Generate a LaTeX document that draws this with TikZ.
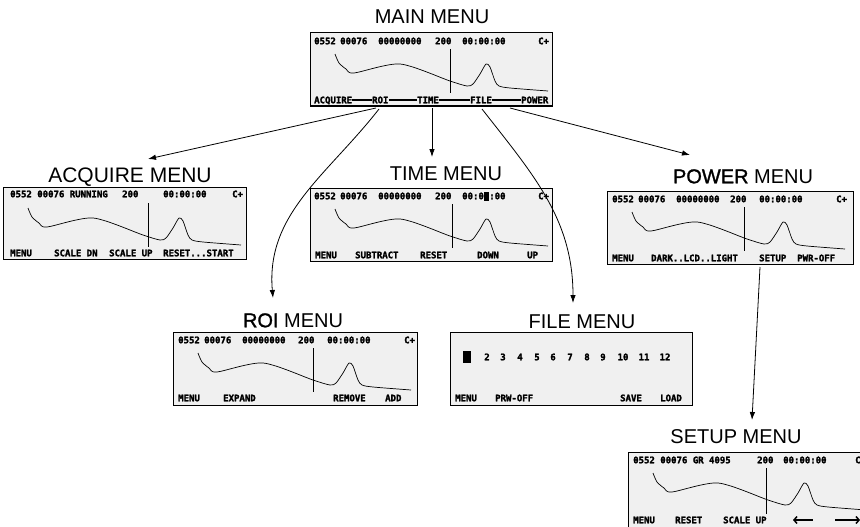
\documentclass[tikz,border=0pt]{standalone}
\usepackage{fontspec}
\setmainfont{Liberation Sans}
\newfontfamily\lcdfont{DejaVu Sans Mono}[UprightFont={* Bold}, UprightFeatures={FakeBold=2.2}]
\newfontfamily\heavyfont{Liberation Sans}[FakeBold=1.3]
\usetikzlibrary{arrows.meta}
\definecolor{scrgray}{RGB}{240,240,240}
\tikzset{
  scr/.style={draw=black, line width=1pt, fill=scrgray, inner sep=0pt, outer sep=0pt,
    anchor=north west, minimum width=242pt, minimum height=73pt},
  lcd/.style={font={\lcdfont\fontsize{9}{10}\selectfont}, anchor=west, inner sep=0pt,
    text height=6.5pt, text depth=0pt},
  lcdc/.style={lcd, anchor=center},
  ttl/.style={font={\fontsize{20}{22}\selectfont}, inner sep=0pt, text height=14.5pt, text depth=0pt},
  conn/.style={line width=0.8pt, -{Latex[length=8pt,width=5.5pt]}},
  curvel/.style={line width=0.7pt},
  cur/.style={line width=0.8pt},
  lcdbar/.style={line width=1.5pt},
}
\newcommand\lcdcurve{\draw[curvel] plot[smooth, tension=0.45] coordinates {(25,21) (29,30) (36,36) (44,40) (90,31) (140,48) (157,53) (163,51) (170,41) (176,31) (180,34) (185,48) (189,53) (200,55) (238,58)};}
\begin{document}
\begin{tikzpicture}[x=1pt,y=-1pt]
\useasboundingbox (0,0) rectangle (860,527);
\begin{scope}
\clip (0,0) rectangle (860,527);

% ---------- titles ----------
\node[ttl] (tmain) at (432,16) {MAIN MENU};
\node[ttl, font={\fontsize{21}{23}\selectfont}] (tacq) at (130,175) {ACQUIRE MENU};
\node[ttl] (ttime) at (446,173) {TIME MENU};
\node[ttl] (tpow) at (743,176) {{\heavyfont POWER} MENU};
\node[ttl] (troi) at (293,320) {{\heavyfont ROI} MENU};
\node[ttl] (tfile) at (582,321) {FILE MENU};
\node[ttl] (tset) at (736,436) {SETUP MENU};

% ---------- main ----------
\begin{scope}[shift={(310,33)}]
\node[scr] (mainscr) at (0,0) {};
\lcdcurve
\draw[cur] (140,16) -- (140,60);
\node[lcd] (m1) at (4,8) {0552};
\node[lcd] (m2) at (30,8) {00076};
\node[lcd] (m3) at (68,8) {00000000};
\node[lcd] (m4) at (125,8) {200};
\node[lcd] (m5) at (152,8) {00:00:00};
\node[lcd] (m6) at (228,8) {C+};
\node[lcd] (m7) at (4,67) {ACQUIRE};
\node[lcd] (m8) at (62,67) {ROI};
\node[lcd] (m9) at (107,67) {TIME};
\node[lcd] (m10) at (160,67) {FILE};
\node[lcd] (m11) at (211,67) {POWER};
\draw[lcdbar] (m7.east) -- (m8.west);
\draw[lcdbar] (m8.east) -- (m9.west);
\draw[lcdbar] (m9.east) -- (m10.west);
\draw[lcdbar] (m10.east) -- (m11.west);
\end{scope}

% ---------- acquire ----------
\begin{scope}[shift={(3,187)}]
\node[scr, minimum width=243pt, minimum height=72pt] (acqscr) at (0,0) {};
\lcdcurve
\draw[cur] (145,16) -- (145,60);
\node[lcd] (a1) at (7,7) {0552 00076 RUNNING};
\node[lcd] (a2) at (119,7) {200};
\node[lcd] (a3) at (160,7) {00:00:00};
\node[lcd] (a4) at (229,7) {C+};
\node[lcd] (a5) at (7,66) {MENU};
\node[lcd] (a6) at (51,66) {SCALE DN};
\node[lcd] (a7) at (106,66) {SCALE UP};
\node[lcd] (a8) at (160,66) {RESET...START};
\end{scope}

% ---------- time ----------
\begin{scope}[shift={(310,188)}]
\node[scr] (timescr) at (0,0) {};
\lcdcurve
\draw[cur] (142,16) -- (142,60);
\node[lcd] (t1) at (4,8) {0552};
\node[lcd] (t2) at (30,8) {00076};
\node[lcd] (t3) at (68,8) {00000000};
\node[lcd] (t4) at (125,8) {200};
\node[lcd] (t5) at (152,8) {00:00:00};
\fill (173.5,3.5) rectangle (179.2,12.5);
\node[lcd] (t6) at (228,8) {C+};
\node[lcd] (t7) at (5,67) {MENU};
\node[lcd] (t8) at (45,67) {SUBTRACT};
\node[lcd] (t9) at (110,67) {RESET};
\node[lcd] (t10) at (167,67) {DOWN};
\node[lcd] (t11) at (217,67) {UP};
\end{scope}

% ---------- power ----------
\begin{scope}[shift={(607,191)}]
\node[scr, minimum width=246pt] (powscr) at (0,0) {};
\lcdcurve
\draw[cur] (137,16) -- (137,60);
\node[lcd] (p1) at (5,8) {0552};
\node[lcd] (p2) at (31,8) {00076};
\node[lcd] (p3) at (69,8) {00000000};
\node[lcd] (p4) at (123,8) {200};
\node[lcd] (p5) at (152,8) {00:00:00};
\node[lcd] (p6) at (229,8) {C+};
\node[lcd] (p7) at (5,67) {MENU};
\node[lcd] (p8) at (44,67) {DARK..LCD..LIGHT};
\node[lcd] (p9) at (152,67) {SETUP};
\node[lcd] (p10) at (190,67) {PWR-OFF};
\end{scope}

% ---------- roi ----------
\begin{scope}[shift={(173,332)}]
\node[scr, minimum width=244pt] (roiscr) at (0,0) {};
\lcdcurve
\draw[cur] (140,16) -- (140,60);
\node[lcd] (r1) at (5,8) {0552};
\node[lcd] (r2) at (31,8) {00076};
\node[lcd] (r3) at (69,8) {00000000};
\node[lcd] (r4) at (125,8) {200};
\node[lcd] (r5) at (154,8) {00:00:00};
\node[lcd] (r6) at (231,8) {C+};
\node[lcd] (r7) at (5,66) {MENU};
\node[lcd] (r8) at (50,66) {EXPAND};
\node[lcd] (r9) at (160,66) {REMOVE};
\node[lcd] (r10) at (212,66) {ADD};
\end{scope}

% ---------- file ----------
\begin{scope}[shift={(450,332)}]
\node[scr] (filescr) at (0,0) {};
\fill (13,19) rectangle (21,31);
\node[lcdc] (f2) at (37,25) {2};
\node[lcdc] (f3) at (53,25) {3};
\node[lcdc] (f4) at (70,25) {4};
\node[lcdc] (f5) at (87,25) {5};
\node[lcdc] (f6) at (103,25) {6};
\node[lcdc] (f7) at (120,25) {7};
\node[lcdc] (f8) at (137,25) {8};
\node[lcdc] (f9) at (153,25) {9};
\node[lcdc] (f10) at (173,25) {10};
\node[lcdc] (f11) at (194,25) {11};
\node[lcdc] (f12) at (215,25) {12};
\node[lcd] (f13) at (5,66) {MENU};
\node[lcd] (f14) at (45,66) {PRW-OFF};
\node[lcd] (f15) at (170,66) {SAVE};
\node[lcd] (f16) at (210,66) {LOAD};
\end{scope}

% ---------- setup ----------
\begin{scope}[shift={(628,452)}]
\node[scr, minimum height=80pt] (setscr) at (0,0) {};
\lcdcurve
\draw[cur] (138,16) -- (138,62);
\node[lcd] (s1) at (5,8) {0552 00076 GR 4095};
\node[lcd] (s2) at (129,8) {200};
\node[lcd] (s3) at (155,8) {00:00:00};
\node[lcd] (s4) at (227,8) {C+};
\node[lcd] (s5) at (5,68) {MENU};
\node[lcd] (s6) at (47,68) {RESET};
\node[lcd] (s7) at (95,68) {SCALE UP};
\coordinate (sl1) at (165,68);
\coordinate (sl2) at (185,68);
\coordinate (sr1) at (207,68);
\coordinate (sr2) at (232,68);
\draw[lcdbar, {Straight Barb[length=3pt,width=7pt]}-] (sl1) -- (sl2);
\draw[lcdbar, -{Straight Barb[length=3pt,width=7pt]}] (sr1) -- (sr2);
\end{scope}

% ---------- connectors ----------
\coordinate (c1a) at (376,108);
\coordinate (c1b) at (148,159);
\coordinate (c2a) at (379,109);
\coordinate (c2b) at (273,298);
\coordinate (c3a) at (432,108);
\coordinate (c3b) at (432,157);
\coordinate (c4a) at (482,109);
\coordinate (c4b) at (573,303);
\coordinate (c5a) at (510,108);
\coordinate (c5b) at (690,155);
\coordinate (c6a) at (760,267);
\coordinate (c6b) at (752,420);
\draw[conn] (c1a) -- (c1b);
\draw[conn] (c2a) to[out=-128, in=95] (c2b);
\draw[conn] (c3a) -- (c3b);
\draw[conn] (c4a) to[out=-52, in=90] (c4b);
\draw[conn] (c5a) -- (c5b);
\draw[conn] (c6a) -- (c6b);
\end{scope}
\end{tikzpicture}
\end{document}
